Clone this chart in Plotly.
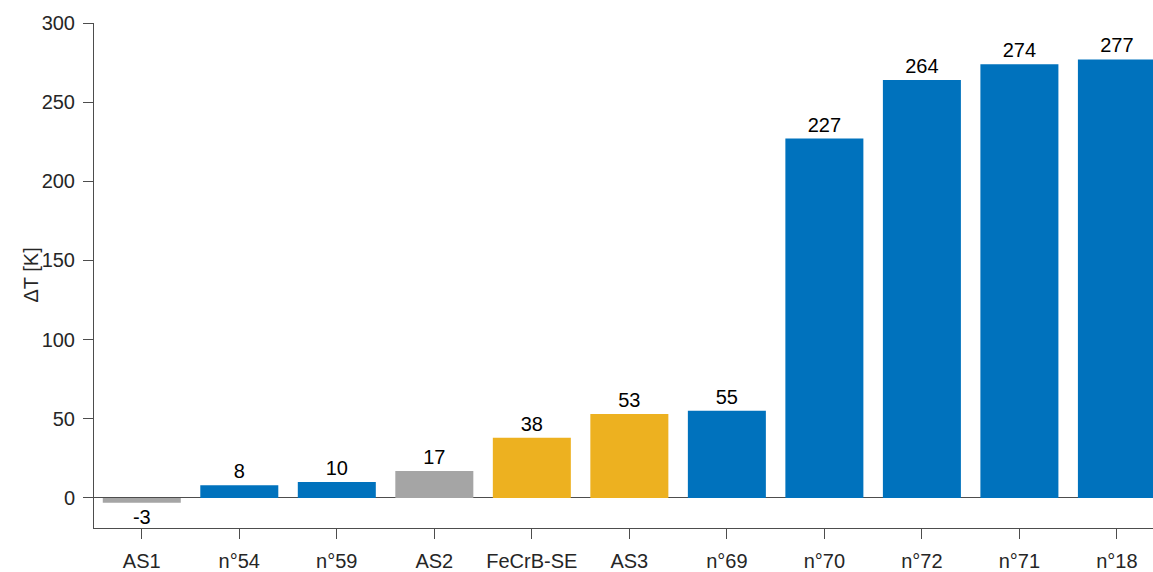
import plotly.graph_objects as go

# sample names and temperature differences
samples = ["AS1", "n°54", "n°59", "AS2", "FeCrB-SE", "AS3", "n°69",
           "n°70", "n°72", "n°71", "n°18"]
delta_t = [-3, 8, 10, 17, 38, 53, 55, 227, 264, 274, 277]
groups = ["ref", "alloy", "alloy", "ref", "coat", "coat", "alloy",
          "alloy", "alloy", "alloy", "alloy"]

palette = {"alloy": "#0072BD", "coat": "#EDB120", "ref": "#A5A5A5"}
colors = [palette[g] for g in groups]

fig = go.Figure(
    go.Bar(
        x=samples,
        y=delta_t,
        marker=dict(color=colors, line=dict(width=0)),
        text=[str(v) for v in delta_t],
        textposition="outside",
        textfont=dict(size=20, color="black"),
        cliponaxis=False,
    )
)

axis_col = "#4d4d4d"
W, H = 1153, 572
L, R, T, B = 94, 0, 23, 44
fig.update_layout(
    width=W,
    height=H,
    margin=dict(l=L, r=R, t=T, b=B),
    plot_bgcolor="white",
    paper_bgcolor="white",
    font=dict(family="Liberation Sans, Arial, sans-serif", size=20, color="#262626"),
    bargap=0.2,
    showlegend=False,
    uniformtext=dict(mode=False),
    xaxis=dict(
        range=[-0.49, 10.37],
        automargin=False,
        showline=True, linecolor=axis_col, linewidth=1,
        ticks="outside", ticklen=10, tickcolor=axis_col,
        ticklabelstandoff=5,
        showgrid=False, zeroline=False,
        tickfont=dict(size=20),
    ),
    yaxis=dict(
        range=[-19, 300],
        tickvals=[0, 50, 100, 150, 200, 250, 300],
        automargin=False,
        showline=True, linecolor=axis_col, linewidth=1,
        ticks="outside", ticklen=10, tickcolor=axis_col,
        ticklabelstandoff=4,
        showgrid=False,
        zeroline=True, zerolinecolor=axis_col, zerolinewidth=1,
        tickfont=dict(size=20),
    ),
    annotations=[dict(
        text="ΔT [K]", textangle=-90, showarrow=False,
        xref="paper", yref="paper",
        x=(30 - L) / (W - L - R), y=0.5,
        xanchor="center", yanchor="middle",
        font=dict(size=20, color="#262626"),
    )],
)

fig.write_html("out.html", config={"displayModeBar": False},
               post_script="document.body.style.margin='0';")
